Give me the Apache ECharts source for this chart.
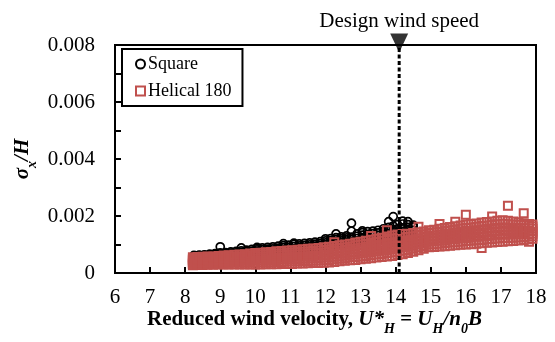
<!DOCTYPE html>
<html>
<head>
<meta charset="utf-8">
<script src="https://cdn.jsdelivr.net/npm/echarts@6/dist/echarts.min.js"></script>
<style>
html,body{margin:0;padding:0;background:#fff;}
#c{width:555px;height:342px;}
</style>
</head>
<body>
<div id="c"></div>
<script>
// ---- Data ----
const xTicks = [6,7,8,9,10,11,12,13,14,15,16,17,18];
const yTicks = [0,0.002,0.004,0.006,0.008];
const designSpeed = [14.1];
const designLabel = ['Design wind speed'];

// Square (black circles): reduced velocity groups and sigma_x/H values
const sqX = [8.25,8.4,8.55,8.7,8.85,9.0,9.15,9.3,9.45,9.6,9.75,9.9,10.05,10.2,10.35,10.5,10.65,10.8,10.95,11.1,11.25,11.4,11.55,11.7,11.85,12.0,12.15,12.3,12.45,12.6,12.74,12.9,13.05,13.2,13.35,13.5,13.65,13.8,13.93,14.05,14.2,14.35,14.5];
const sqY = [
 [54e-5,57e-5,60e-5,62e-5],
 [55e-5,58e-5,61e-5,63e-5],
 [56e-5,59e-5,62e-5,64e-5],
 [57e-5,60e-5,63e-5,66e-5],
 [58e-5,61e-5,65e-5,68e-5],
 [59e-5,63e-5,67e-5,71e-5,92e-5],
 [60e-5,64e-5,68e-5,72e-5],
 [61e-5,65e-5,70e-5,74e-5],
 [62e-5,67e-5,71e-5,76e-5],
 [63e-5,68e-5,73e-5,78e-5,88e-5],
 [65e-5,70e-5,75e-5,80e-5],
 [66e-5,71e-5,77e-5,83e-5],
 [70e-5,75e-5,81e-5,86e-5,90e-5],
 [71e-5,76e-5,82e-5,88e-5],
 [72e-5,78e-5,84e-5,90e-5],
 [73e-5,79e-5,85e-5,92e-5],
 [75e-5,81e-5,87e-5,94e-5],
 [76e-5,82e-5,89e-5,96e-5,103e-5],
 [78e-5,84e-5,91e-5,98e-5],
 [80e-5,86e-5,93e-5,100e-5,105e-5],
 [82e-5,88e-5,95e-5,102e-5],
 [84e-5,90e-5,97e-5,104e-5],
 [86e-5,92e-5,99e-5,106e-5],
 [88e-5,94e-5,101e-5,108e-5],
 [90e-5,96e-5,103e-5,110e-5],
 [93e-5,99e-5,106e-5,113e-5,120e-5],
 [95e-5,101e-5,108e-5,115e-5,121e-5],
 [97e-5,104e-5,111e-5,118e-5,124e-5,137e-5],
 [99e-5,106e-5,113e-5,120e-5,127e-5],
 [101e-5,108e-5,116e-5,123e-5,130e-5],
 [103e-5,110e-5,118e-5,126e-5,147e-5,175e-5],
 [105e-5,113e-5,121e-5,129e-5,137e-5],
 [107e-5,115e-5,124e-5,133e-5,142e-5,148e-5],
 [109e-5,118e-5,127e-5,136e-5,145e-5],
 [111e-5,120e-5,129e-5,138e-5,147e-5],
 [113e-5,122e-5,132e-5,141e-5,150e-5],
 [115e-5,125e-5,135e-5,145e-5,155e-5],
 [117e-5,127e-5,138e-5,149e-5,160e-5,180e-5],
 [119e-5,130e-5,141e-5,152e-5,165e-5,198e-5],
 [121e-5,132e-5,143e-5,155e-5,170e-5],
 [123e-5,134e-5,146e-5,158e-5,172e-5,182e-5],
 [125e-5,136e-5,148e-5,160e-5,170e-5,180e-5],
 [127e-5,138e-5,150e-5,162e-5,168e-5]
];

// Helical 180 (red squares)
const helX = [8.22,8.35,8.5,8.64,8.8,8.95,9.1,9.24,9.4,9.55,9.7,9.85,10.0,10.15,10.3,10.45,10.6,10.75,10.9,11.05,11.2,11.35,11.5,11.65,11.8,11.95,12.1,12.25,12.4,12.55,12.7,12.85,13.0,13.15,13.3,13.45,13.6,13.75,13.9,14.05,14.2,14.35,14.5,14.65,14.8,14.95,15.1,15.25,15.4,15.55,15.7,15.85,16.0,16.15,16.3,16.45,16.6,16.75,16.9,17.05,17.2,17.35,17.5,17.65,17.8,17.9];
const helY = [
 [27e-5,32e-5,36e-5,41e-5,46e-5,50e-5,55e-5],
 [28e-5,33e-5,37e-5,42e-5,47e-5,52e-5,56e-5],
 [28e-5,32e-5,38e-5,43e-5,47e-5,53e-5,57e-5],
 [29e-5,34e-5,38e-5,44e-5,48e-5,53e-5,58e-5],
 [29e-5,33e-5,39e-5,43e-5,49e-5,54e-5,58e-5],
 [30e-5,35e-5,40e-5,45e-5,50e-5,55e-5,60e-5],
 [30e-5,35e-5,41e-5,46e-5,51e-5,56e-5,61e-5],
 [30e-5,36e-5,41e-5,46e-5,52e-5,57e-5,62e-5],
 [30e-5,36e-5,42e-5,47e-5,53e-5,58e-5,64e-5],
 [30e-5,36e-5,42e-5,48e-5,53e-5,59e-5,65e-5],
 [30e-5,36e-5,43e-5,49e-5,54e-5,60e-5,66e-5],
 [30e-5,37e-5,43e-5,49e-5,56e-5,62e-5,68e-5],
 [30e-5,37e-5,44e-5,50e-5,57e-5,63e-5,70e-5],
 [30e-5,37e-5,44e-5,51e-5,57e-5,64e-5,71e-5],
 [31e-5,38e-5,45e-5,52e-5,59e-5,66e-5,73e-5],
 [31e-5,38e-5,46e-5,53e-5,60e-5,67e-5,74e-5],
 [31e-5,39e-5,46e-5,53e-5,61e-5,68e-5,76e-5],
 [32e-5,39e-5,47e-5,54e-5,62e-5,69e-5,77e-5],
 [32e-5,40e-5,48e-5,55e-5,63e-5,71e-5,79e-5],
 [32e-5,40e-5,48e-5,56e-5,64e-5,72e-5,80e-5],
 [33e-5,41e-5,49e-5,57e-5,66e-5,74e-5,82e-5],
 [33e-5,42e-5,50e-5,58e-5,66e-5,75e-5,83e-5],
 [34e-5,42e-5,51e-5,59e-5,68e-5,76e-5,85e-5],
 [35e-5,43e-5,52e-5,60e-5,69e-5,77e-5,86e-5],
 [35e-5,44e-5,53e-5,61e-5,70e-5,79e-5,88e-5],
 [36e-5,45e-5,54e-5,63e-5,72e-5,81e-5,90e-5],
 [37e-5,46e-5,55e-5,64e-5,74e-5,83e-5,92e-5],
 [39e-5,48e-5,57e-5,67e-5,76e-5,86e-5,95e-5,108e-5],
 [41e-5,50e-5,59e-5,69e-5,78e-5,88e-5,97e-5],
 [43e-5,52e-5,62e-5,71e-5,81e-5,90e-5,100e-5],
 [45e-5,55e-5,64e-5,74e-5,84e-5,93e-5,103e-5],
 [46e-5,56e-5,66e-5,76e-5,86e-5,97e-5,107e-5],
 [48e-5,58e-5,69e-5,79e-5,89e-5,100e-5,110e-5],
 [50e-5,60e-5,71e-5,81e-5,92e-5,102e-5,113e-5],
 [52e-5,63e-5,74e-5,84e-5,95e-5,106e-5,117e-5,130e-5],
 [54e-5,65e-5,76e-5,87e-5,98e-5,109e-5,120e-5],
 [56e-5,67e-5,78e-5,90e-5,101e-5,113e-5,124e-5],
 [58e-5,70e-5,81e-5,93e-5,105e-5,116e-5,128e-5,150e-5],
 [60e-5,72e-5,84e-5,96e-5,108e-5,120e-5,132e-5],
 [63e-5,75e-5,87e-5,99e-5,111e-5,123e-5,135e-5],
 [66e-5,78e-5,90e-5,101e-5,113e-5,125e-5,137e-5],
 [70e-5,81e-5,92e-5,104e-5,115e-5,127e-5,138e-5],
 [75e-5,86e-5,96e-5,107e-5,118e-5,129e-5,140e-5],
 [80e-5,90e-5,101e-5,111e-5,122e-5,132e-5,143e-5,162e-5],
 [85e-5,95e-5,105e-5,115e-5,126e-5,136e-5,146e-5],
 [90e-5,100e-5,110e-5,120e-5,130e-5,140e-5,150e-5],
 [91e-5,101e-5,112e-5,122e-5,132e-5,142e-5,152e-5],
 [93e-5,103e-5,113e-5,124e-5,134e-5,145e-5,155e-5,172e-5],
 [94e-5,105e-5,115e-5,126e-5,137e-5,147e-5,158e-5],
 [96e-5,107e-5,118e-5,128e-5,139e-5,150e-5,161e-5],
 [97e-5,108e-5,119e-5,130e-5,142e-5,153e-5,164e-5,180e-5],
 [99e-5,110e-5,122e-5,133e-5,144e-5,156e-5,167e-5],
 [100e-5,112e-5,123e-5,135e-5,147e-5,158e-5,170e-5,204e-5],
 [101e-5,113e-5,125e-5,137e-5,148e-5,160e-5,172e-5],
 [103e-5,115e-5,127e-5,139e-5,150e-5,162e-5,174e-5],
 [104e-5,116e-5,128e-5,140e-5,153e-5,165e-5,177e-5,88e-5],
 [106e-5,118e-5,130e-5,143e-5,155e-5,167e-5,179e-5],
 [107e-5,119e-5,132e-5,144e-5,156e-5,169e-5,181e-5,198e-5],
 [109e-5,121e-5,134e-5,146e-5,158e-5,171e-5,183e-5],
 [110e-5,123e-5,135e-5,148e-5,160e-5,173e-5,185e-5],
 [111e-5,123e-5,135e-5,147e-5,159e-5,171e-5,183e-5,236e-5],
 [112e-5,124e-5,136e-5,147e-5,159e-5,170e-5,181e-5],
 [114e-5,125e-5,136e-5,147e-5,158e-5,169e-5,178e-5],
 [116e-5,126e-5,137e-5,147e-5,157e-5,168e-5,175e-5,210e-5],
 [118e-5,128e-5,137e-5,147e-5,157e-5,166e-5,172e-5,110e-5],
 [120e-5,129e-5,138e-5,146e-5,155e-5,163e-5,170e-5]
];

// ---- Build point lists ----
function pairs(xs, ys){
  const out = [];
  xs.forEach((x,i)=>ys[i].forEach(y=>out.push([x,y])));
  return out;
}
const squarePts = pairs(sqX, sqY);
const helicalPts = pairs(helX, helY);

const FONT = '"Liberation Serif","Times New Roman",serif';
const RED = '#C0504D';

const chart = echarts.init(document.getElementById('c'), null, {renderer:'canvas'});
chart.setOption({
  animation:false,
  backgroundColor:'#fff',
  grid:{left:115,right:19,top:45,bottom:69,show:true,borderColor:'#000',borderWidth:2,backgroundColor:'transparent'},
  legend:{
    left:122, top:49, orient:'vertical',
    backgroundColor:'#fff', borderColor:'#000', borderWidth:2, borderRadius:0,
    padding:[6,11,6,13], itemGap:9, itemWidth:9, itemHeight:9,
    textStyle:{fontFamily:FONT, fontSize:18, color:'#000', padding:[0,0,0,-2]},
    data:['Square','Helical 180']
  },
  xAxis:{
    type:'value', min:xTicks[0], max:xTicks[xTicks.length-1], interval:1,
    axisLine:{lineStyle:{color:'#000',width:2}},
    axisTick:{inside:true,length:6,lineStyle:{color:'#000',width:2}},
    axisLabel:{fontFamily:FONT,fontSize:21,color:'#000',margin:14},
    splitLine:{show:false},
    name:'{b|Reduced wind velocity, }{bi|U*}{sub|H}{bi| = U}{sub|H}{bi|/n}{sub|0}{bi|B}',
    nameLocation:'middle', nameGap:35, nameMoveOverlap:false,
    nameTextStyle:{
      padding:[0,22,0,0],
      rich:{
        b:{fontFamily:FONT,fontSize:21,fontWeight:'bold',color:'#000',lineHeight:24},
        bi:{fontFamily:FONT,fontSize:21,fontWeight:'bold',fontStyle:'italic',color:'#000',lineHeight:24},
        sub:{fontFamily:FONT,fontSize:14,fontWeight:'bold',fontStyle:'italic',color:'#000',lineHeight:14,verticalAlign:'bottom',padding:[0,0,-4,0]}
      }
    }
  },
  yAxis:{
    type:'value', min:0, max:0.008, interval:0.001,
    axisLine:{lineStyle:{color:'#000',width:2}},
    axisTick:{inside:true,length:6,lineStyle:{color:'#000',width:2}},
    axisLabel:{fontFamily:FONT,fontSize:21,color:'#000',margin:20,
      formatter:function(v){
        const k = Math.round(v/0.001);
        if (k % 2) return '';
        const t = yTicks.find(q=>Math.abs(q-v)<1e-9);
        return t === 0 ? '0' : t.toFixed(3);
      }},
    splitLine:{show:false},
    name:'{s|σ}{sub|x}{i|/H}',
    nameLocation:'middle', nameGap:80, nameRotate:90, nameMoveOverlap:false,
    nameTextStyle:{
      rich:{
        s:{fontFamily:FONT,fontSize:21,fontWeight:'bold',fontStyle:'italic',color:'#000',lineHeight:24},
        i:{fontFamily:FONT,fontSize:21,fontWeight:'bold',fontStyle:'italic',color:'#000',lineHeight:24},
        sub:{fontFamily:FONT,fontSize:14,fontWeight:'bold',fontStyle:'italic',color:'#000',lineHeight:14,verticalAlign:'bottom',padding:[0,0,-4,0]}
      }
    }
  },
  series:[
    {
      name:'Square', type:'scatter', symbol:'circle', symbolSize:8,
      itemStyle:{color:'rgba(0,0,0,0)', borderColor:'#000', borderWidth:1.7, opacity:1},
      data:squarePts, z:2
    },
    {
      name:'Helical 180', type:'scatter', symbol:'rect', symbolSize:8,
      itemStyle:{color:'rgba(0,0,0,0)', borderColor:RED, borderWidth:2, opacity:1},
      data:helicalPts, z:3
    },
    {
      name:'design', type:'line', silent:true, symbol:'none', z:4,
      lineStyle:{color:'#000', width:3, type:[4,2.5]},
      data:[[designSpeed[0],0],[designSpeed[0],0.008]]
    },
    {
      name:'designMarker', type:'scatter', silent:true, clip:false, z:5,
      symbol:'triangle', symbolRotate:180, symbolSize:[18,19], symbolOffset:[0,-2],
      itemStyle:{color:'#000'},
      data:[[designSpeed[0],0.008]]
    }
  ]
});
// Annotation text placed above the marker, converted through the axes
const p = chart.convertToPixel({xAxisIndex:0,yAxisIndex:0},[designSpeed[0],0.008]);
chart.setOption({graphic:[{type:'text', silent:true, x:p[0], y:21,
  style:{text:designLabel[0], x:0, y:0, fill:'#000', font:'21px "Liberation Serif", serif', textAlign:'center', textVerticalAlign:'middle'}}]});
</script>
</body>
</html>
